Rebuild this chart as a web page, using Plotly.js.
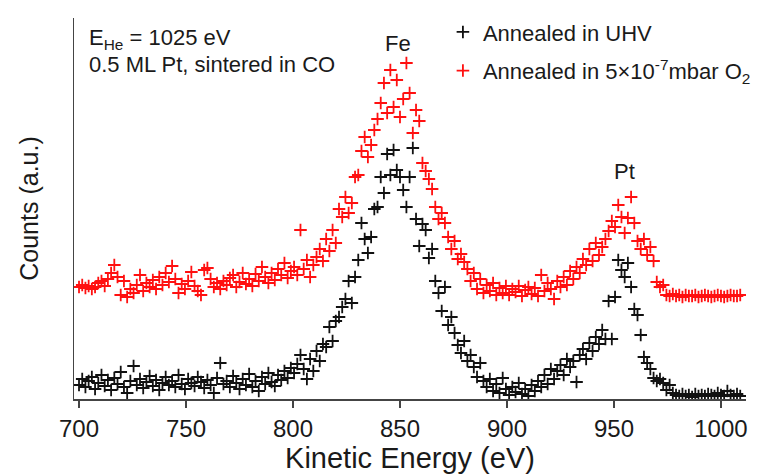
<!DOCTYPE html>
<html>
<head>
<meta charset="utf-8">
<script src="https://cdn.plot.ly/plotly-3.0.1.min.js"></script>
<style>
  html, body { margin: 0; padding: 0; background: #ffffff; }
  #chart { width: 758px; height: 474px; }
</style>
</head>
<body>
<div id="chart"></div>
<script>
// Energy grid of the spectra (eV)
const energyStart = 700;
const energyStep = 1.5;

// Annealed in UHV (counts, a.u.)
const uhvCounts = [
  14, 20, 12, 18, 22, 10, 16, 24, 13, 19,
  9, 21, 15, 27, 12, 6, 18, 33, 14, 20,
  11, 17, 23, 13, 19, 9, 16, 22, 14, 18,
  12, 24, 15, 10, 20, 16, 13, 22, 17, 11,
  19, 14, 6, 21, 36, 15, 18, 12, 23, 16,
  10, 20, 14, 25, 12, 18, 8, 22, 15, 26,
  17, 13, 24, 19, 28, 21, 31,
  26, 35, 44, 30, 20, 40, 28, 48, 38, 55,
  52, 72, 58, 78, 82, 92, 100, 118, 96, 122,
  139, 176, 160, 146, 162, 190, 192, 222, 206, 245,
  224, 249, 229, 222,
  209, 192, 222, 251, 180, 153, 175, 169, 141, 150,
  118, 106, 88, 112, 74, 82, 66, 54, 46, 58,
  38, 44, 32, 22, 36, 18, 12, 20, 8, 15,
  6, 21, 10,
  4, 12, 7, 16, 5, 10, 3, 14, 8, 18,
  12, 24, 15, 30, 20, 28, 34, 24, 40, 32,
  38, 17, 44, 50, 40, 56, 48, 62, 55, 69,
  60, 98, 60,
  102, 139, 129, 122, 136, 112, 90, 84, 64, 42,
  36, 30, 21, 18, 20, 16, 9, 14, 6, 4,
  3, 5, 3, 4, 2, 5, 3, 4, 3, 5,
  4, 3, 6, 4, 3, 8, 4, 3, 5, 3
];

// Annealed in 5x10^-7 mbar O2 (counts, a.u., offset)
const o2Counts = [
  112, 114, 111, 113, 110, 112, 116, 118, 113, 120,
  126, 134, 122, 104, 118, 102, 110, 106, 114, 124,
  108, 116, 112, 119, 110, 122, 114, 126, 117, 133,
  120, 106, 115, 110, 118, 127, 113, 108, 104, 129,
  131, 120, 112, 116, 110, 118, 114, 121, 124, 112,
  117, 126, 115, 120, 113, 125, 118, 132, 122, 116,
  126, 119, 130, 124, 136, 121, 128,
  132, 124, 169, 130, 139, 122, 134, 142, 150, 138,
  160, 148, 169, 156, 190, 182, 202, 186, 196, 222,
  224, 248, 262, 242, 254, 269, 280, 296, 316, 286,
  329, 292, 319, 282,
  300, 336, 306, 266, 289, 278, 236, 228, 220, 210,
  192, 180, 186, 176, 162, 150, 158, 140, 145, 137,
  130, 118, 126, 110, 120, 106, 114, 108, 116, 104,
  111, 106, 113,
  104, 110, 107, 113, 103, 109, 112, 105, 111, 103,
  124, 108, 116, 110, 100, 118, 112, 122, 114, 128,
  120, 132, 126, 140, 134, 150, 138, 156, 144, 152,
  160, 168, 178,
  172, 194, 182, 166, 181, 202, 176, 158, 150, 160,
  144, 152, 138, 117, 112, 114, 104, 103, 105, 103,
  104, 102, 104, 103, 103, 104, 102, 103, 104, 103,
  102, 103, 104, 103, 102, 103, 104, 103, 103, 104
];

const xTickValues = [700, 750, 800, 850, 900, 950, 1000];
const seriesNames = [
  'Annealed in UHV',
  'Annealed in 5×10<sup>-7</sup>mbar O<sub>2</sub>'
];

const energies = uhvCounts.map((_, i) => energyStart + energyStep * i);

const font = 'Liberation Sans, Arial, sans-serif';

function markerTrace(yvals, name, color, group) {
  return {
    type: 'scatter',
    mode: 'markers',
    x: energies,
    y: yvals,
    name: name,
    legendgroup: group,
    marker: {
      symbol: 'cross-thin',
      size: 9,
      color: color,
      line: { color: color, width: 1.8 }
    },
    hoverinfo: 'x+y'
  };
}

const data = [
  markerTrace(uhvCounts, seriesNames[0], '#111111', 'a'),
  markerTrace(o2Counts, seriesNames[1], '#ff1010', 'b')
];

const layout = {
  width: 758,
  height: 474,
  margin: { l: 74, r: 12, t: 18, b: 75, autoexpand: false },
  paper_bgcolor: '#ffffff',
  plot_bgcolor: '#ffffff',
  font: { family: font, color: '#1a1a1a', size: 22 },
  showlegend: true,
  legend: {
    x: 0.549, y: 1.018, xanchor: 'left', yanchor: 'top',
    bgcolor: 'rgba(0,0,0,0)',
    font: { family: font, size: 22, color: '#1a1a1a' },
    traceorder: 'grouped',
    tracegroupgap: 7,
    itemwidth: 30
  },
  xaxis: {
    range: [697.66, 1011.7],
    tickvals: xTickValues,
    ticktext: xTickValues.map(String),
    ticks: 'outside',
    ticklen: 7,
    tickwidth: 1.5,
    tickcolor: '#444444',
    ticklabelstandoff: 1,
    showline: true,
    linecolor: '#444444',
    linewidth: 1.5,
    showgrid: false,
    zeroline: false,
    tickfont: { family: font, size: 24, color: '#1a1a1a' },
    title: { text: 'Kinetic Energy (eV)', font: { family: font, size: 29, color: '#1a1a1a' }, standoff: 5 }
  },
  yaxis: {
    range: [0, 381],
    showticklabels: false,
    ticks: '',
    showline: true,
    linecolor: '#444444',
    linewidth: 1.5,
    showgrid: false,
    zeroline: false,
    title: { text: 'Counts (a.u.)', font: { family: font, size: 25, color: '#1a1a1a' }, standoff: 27 }
  },
  annotations: [
    { xref: 'paper', yref: 'paper', x: 0.019, y: 0.945, xanchor: 'left', yanchor: 'middle',
      text: 'E<sub>He</sub> = 1025 eV', showarrow: false, font: { family: font, size: 22, color: '#1a1a1a' } },
    { xref: 'paper', yref: 'paper', x: 0.019, y: 0.877, xanchor: 'left', yanchor: 'middle',
      text: '0.5 ML Pt, sintered in CO', showarrow: false, font: { family: font, size: 22, color: '#1a1a1a' } },
    { xref: 'x', yref: 'paper', x: 849, y: 0.932, xanchor: 'center', yanchor: 'middle',
      text: 'Fe', showarrow: false, font: { family: font, size: 22, color: '#1a1a1a' } },
    { xref: 'x', yref: 'paper', x: 954.7, y: 0.596, xanchor: 'center', yanchor: 'middle',
      text: 'Pt', showarrow: false, font: { family: font, size: 22, color: '#1a1a1a' } }
  ]
};

Plotly.newPlot('chart', data, layout, { displayModeBar: false, staticPlot: true });
</script>
</body>
</html>
